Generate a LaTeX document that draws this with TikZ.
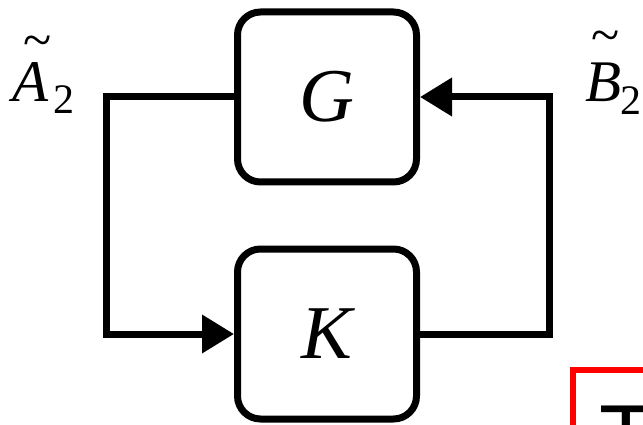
\documentclass[tikz,border=0pt]{standalone}
\usepackage{fontspec}
\setmainfont{Liberation Serif}
\newfontfamily\sansfam{Liberation Sans}
\usetikzlibrary{arrows.meta}

\tikzset{
  block/.style={draw, line width=7pt, rounded corners=23pt,
    minimum width=179pt, minimum height=170pt, inner sep=0pt,
    font=\fontsize{76}{80}\selectfont\itshape},
  wire/.style={line width=7pt},
  flow/.style={wire, -{Triangle[length=32pt 0, width=37pt 0]}},
  sym/.style={anchor=base, inner sep=0pt, font=\fontsize{59}{60}\selectfont\itshape},
  subidx/.style={anchor=base, inner sep=0pt, font=\fontsize{42}{44}\selectfont},
  tildemark/.style={anchor=center, inner sep=0pt, font=\fontsize{52}{52}\selectfont},
}

\begin{document}
\begin{tikzpicture}[x=1pt, y=-1pt]
  \useasboundingbox (0,0) rectangle (643,425);
  \clip (0,0) rectangle (643,425);

  % plant and controller blocks
  \node[block] (G) at (327,97) {G};
  \node[block] (K) at (327,334) {K};

  % return paths of the loop
  \coordinate (lc) at (106,215);
  \coordinate (rc) at (549,215);
  \draw[flow] (G.west) -| (lc) |- (K.west);
  \draw[flow] (K.east) -| (rc) |- (G.east);

  % signal labels
  \node[sym] (A) at (31,102) {A};
  \node[subidx] (A2) at (64,114) {2};
  \node[tildemark] (At) at (38,47) {\symbol{"7E}};

  \node[sym] (B) at (604,102) {B};
  \node[subidx] (B2) at (631,115) {2};
  \node[tildemark] (Bt) at (605.5,42) {\symbol{"7E}};

  % framed text box at the lower right
  \draw[red, line width=6pt] (573,440) -- (573,370) -- (660,370);
  \node[anchor=base west, inner sep=0pt, font=\fontsize{88}{90}\selectfont\sansfam] (T) at (599,466) {T};
\end{tikzpicture}
\end{document}
